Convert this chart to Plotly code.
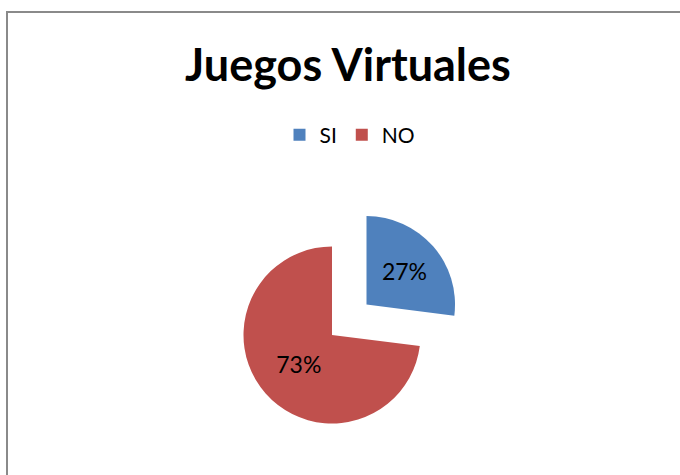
import plotly.graph_objects as go

categories = ["SI", "NO"]
values = [27, 73]
colors = ["#4F81BD", "#C0504D"]
pulls = [0.52, 0]

W, H = 680, 475
cx, cy, r = 332, 335, 88.5
half = r * (1 + max(pulls))

fig = go.Figure(go.Pie(
    labels=categories,
    values=values,
    sort=False,
    direction="clockwise",
    rotation=0,
    pull=pulls,
    marker=dict(colors=colors, line=dict(width=0)),
    textinfo="percent",
    texttemplate="%{percent:.0%}",
    textposition="inside",
    insidetextorientation="horizontal",
    textfont=dict(family="Lato", size=23, color="black"),
    domain=dict(x=[(cx - half) / W, (cx + half) / W],
                y=[1 - (cy + half) / H, 1 - (cy - half) / H]),
    hoverinfo="skip",
))

fig.update_layout(
    width=W, height=H,
    margin=dict(l=0, r=0, t=0, b=0),
    paper_bgcolor="white", plot_bgcolor="white",
    title=dict(text="<b>Juegos Virtuales</b>", x=348 / W, xanchor="center",
               y=1 - 65 / H, yanchor="middle",
               font=dict(family="Lato", size=45, color="black")),
    legend=dict(orientation="h", x=350 / W, xanchor="center",
                y=1 - 135 / H, yanchor="middle",
                font=dict(family="Lato", size=21, color="black"),
                itemwidth=30, tracegroupgap=0),
    showlegend=True,
    shapes=[dict(type="rect", xref="paper", yref="paper",
                 x0=7 / W, x1=1.02, y0=-0.02, y1=1 - 12 / H,
                 line=dict(color="#8A8A8A", width=2))],
)

fig.write_html("out.html",
               config={"displayModeBar": False},
               post_script="document.body.style.margin='0';"
                           "document.body.style.overflow='hidden';")
